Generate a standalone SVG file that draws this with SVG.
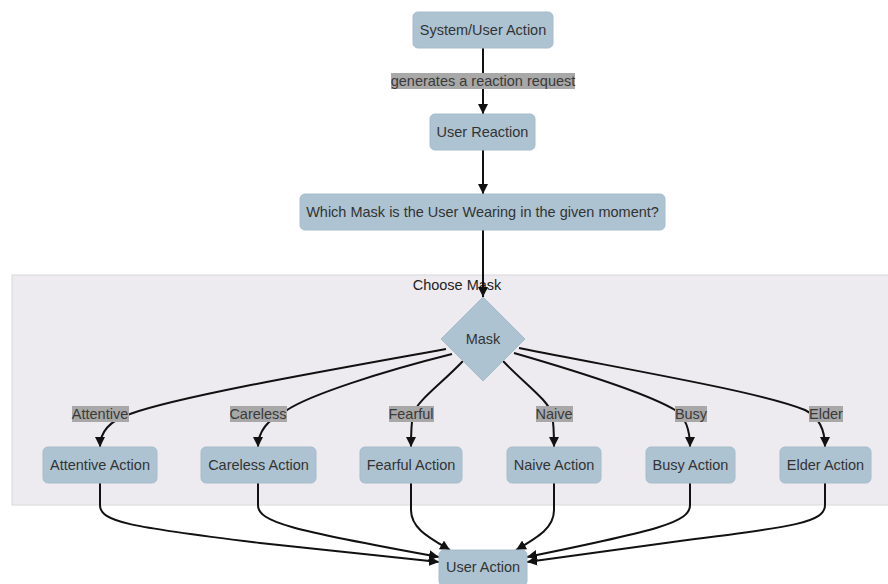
<svg xmlns="http://www.w3.org/2000/svg" width="888" height="584" viewBox="0 0 888 584">
  <style>
    .node rect, .node polygon { fill: #adc3d1; stroke: #a6bccb; stroke-width: 1; }
    .node text { font-family: "Liberation Sans", Arial, sans-serif; font-size: 14.5px; fill: #333; text-anchor: middle; dominant-baseline: central; }
    .edge { fill: none; stroke: #111; stroke-width: 2; marker-end: url(#arrow); }
    .lbl rect { fill: #a8a8a8; }
    .lbl text { font-family: "Liberation Sans", Arial, sans-serif; font-size: 14.5px; fill: #3a3a3a; text-anchor: middle; dominant-baseline: central; }
    .cluster rect { fill: #edebf0; stroke: #d8d8d8; stroke-width: 1; }
    .cluster text { font-family: "Liberation Sans", Arial, sans-serif; font-size: 14.5px; fill: #222; text-anchor: middle; dominant-baseline: central; }
  </style>
  <defs>
    <marker id="arrow" viewBox="0 0 10 10" refX="10" refY="5" markerWidth="10" markerHeight="10" markerUnits="userSpaceOnUse" orient="auto">
      <path d="M0,0 L10,5 L0,10 z" fill="#111"/>
    </marker>
  </defs>
  <rect width="888" height="584" fill="#ffffff"/>

  <!-- subgraph -->
  <g id="choose-mask" class="cluster">
    <rect x="12" y="275" width="880" height="230"/>
    <text x="457" y="285">Choose Mask</text>
  </g>

  <!-- connectors -->
  <g id="connectors">
    <path class="edge" d="M483,48 L483,114"/>
    <path class="edge" d="M483,150 L483,194"/>
    <path class="edge" d="M483,230 L483,297"/>

    <path class="edge" d="M446,349 C330,370 180,396 130,414 Q100,424 100,447"/>
    <path class="edge" d="M452,354 C380,372 310,395 287,410 Q258,424 258,447"/>
    <path class="edge" d="M463,361 C440,385 418,400 413,414 Q411,425 411,447"/>
    <path class="edge" d="M503,361 C526,385 548,400 552,414 Q554,425 554,447"/>
    <path class="edge" d="M514,353 C590,375 650,395 675,410 Q690,420 690,447"/>
    <path class="edge" d="M519,348 C640,372 760,392 805,410 Q825,420 825,447"/>

    <path class="edge" d="M100,483 L100,505 C100,522 130,527 260,543 L439,562"/>
    <path class="edge" d="M258,483 L258,505 C258,522 290,530 439,557"/>
    <path class="edge" d="M411,483 L411,510 C411,528 428,537 450,550"/>
    <path class="edge" d="M554,483 L554,510 C554,528 538,537 516,550"/>
    <path class="edge" d="M690,483 L690,505 C690,522 660,530 527,557"/>
    <path class="edge" d="M825,483 L825,505 C825,522 795,527 680,541 L527,562"/>
  </g>

  <!-- edge labels -->
  <g id="edge-labels">
    <g class="lbl"><rect x="391" y="73" width="184" height="16"/><text x="483" y="81">generates a reaction request</text></g>
    <g class="lbl"><rect x="72" y="406" width="57" height="16"/><text x="100" y="414">Attentive</text></g>
    <g class="lbl"><rect x="230" y="406" width="57" height="16"/><text x="258" y="414">Careless</text></g>
    <g class="lbl"><rect x="389" y="406" width="45" height="16"/><text x="411" y="414">Fearful</text></g>
    <g class="lbl"><rect x="536" y="406" width="37" height="16"/><text x="554" y="414">Naive</text></g>
    <g class="lbl"><rect x="675" y="406" width="32" height="16"/><text x="691" y="414">Busy</text></g>
    <g class="lbl"><rect x="809" y="406" width="34" height="16"/><text x="826" y="414">Elder</text></g>
  </g>

  <!-- nodes -->
  <g id="system-user-action" class="node">
    <rect x="413" y="12" width="140" height="36" rx="5"/>
    <text x="483" y="30">System/User Action</text>
  </g>
  <g id="user-reaction" class="node">
    <rect x="430" y="114" width="105" height="36" rx="5"/>
    <text x="482.5" y="132">User Reaction</text>
  </g>
  <g id="which-mask" class="node">
    <rect x="300" y="194" width="365" height="36" rx="5"/>
    <text x="482.5" y="212">Which Mask is the User Wearing in the given moment?</text>
  </g>
  <g id="mask" class="node">
    <polygon points="483,297 525,339 483,381 441,339"/>
    <text x="483" y="339">Mask</text>
  </g>
  <g id="attentive-action" class="node">
    <rect x="43" y="447" width="114" height="36" rx="5"/>
    <text x="100" y="465">Attentive Action</text>
  </g>
  <g id="careless-action" class="node">
    <rect x="201" y="447" width="115" height="36" rx="5"/>
    <text x="258.5" y="465">Careless Action</text>
  </g>
  <g id="fearful-action" class="node">
    <rect x="360" y="447" width="102" height="36" rx="5"/>
    <text x="411" y="465">Fearful Action</text>
  </g>
  <g id="naive-action" class="node">
    <rect x="507" y="447" width="94" height="36" rx="5"/>
    <text x="554" y="465">Naive Action</text>
  </g>
  <g id="busy-action" class="node">
    <rect x="646" y="447" width="89" height="36" rx="5"/>
    <text x="690.5" y="465">Busy Action</text>
  </g>
  <g id="elder-action" class="node">
    <rect x="780" y="447" width="91" height="36" rx="5"/>
    <text x="825.5" y="465">Elder Action</text>
  </g>
  <g id="user-action" class="node">
    <rect x="439" y="550" width="88" height="36" rx="5"/>
    <text x="483" y="567">User Action</text>
  </g>
</svg>
